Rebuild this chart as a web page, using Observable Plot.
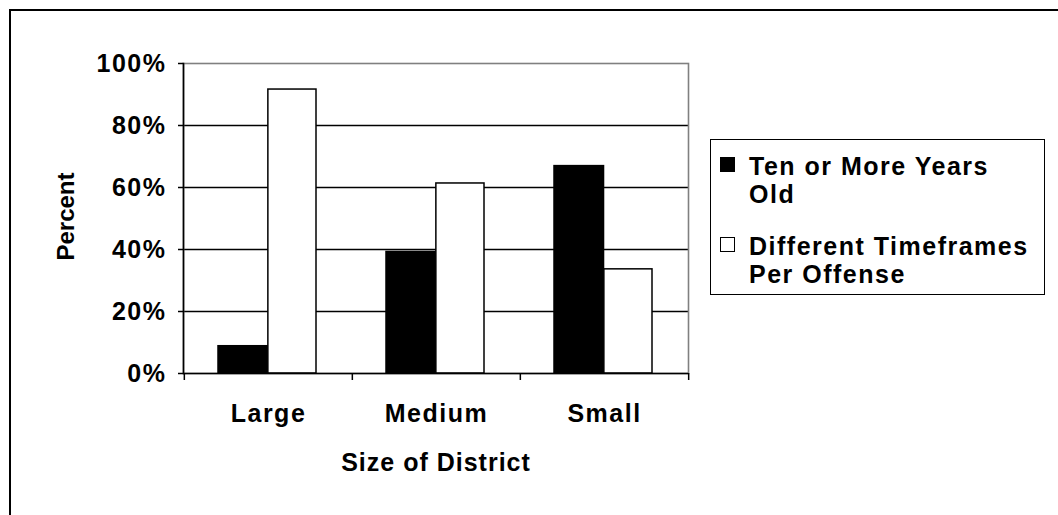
<!DOCTYPE html>
<html>
<head>
<meta charset="utf-8">
<script src="https://cdn.jsdelivr.net/npm/d3@7"></script>
<script src="https://cdn.jsdelivr.net/npm/@observablehq/plot@0.6"></script>
<style>
  html, body { margin: 0; padding: 0; background: #fff; }
  #wrap { position: relative; width: 1058px; height: 515px; overflow: hidden; font-family: "Liberation Sans", Arial, sans-serif; font-weight: bold; }
  #border { position: absolute; left: 9px; top: 9px; width: 2000px; height: 2000px; border-left: 2px solid #000; border-top: 2px solid #000; }
  #chart { position: absolute; left: 0; top: 0; }
  #chart svg g[aria-label$="tick label"] text { letter-spacing: 1.5px; }
  #legend { position: absolute; left: 710px; top: 139px; width: 333px; height: 154px; border: 1.5px solid #000; background: #fff; }
  .entry { position: absolute; left: 38px; font-size: 25px; line-height: 28px; letter-spacing: 1.5px; color: #000; white-space: nowrap; }
  .sw { position: absolute; left: -29px; top: 5px; width: 13px; height: 13px; border: 1.5px solid #000; }
</style>
</head>
<body>
<div id="wrap">
  <div id="border"></div>
  <div id="chart"></div>
  <div id="legend"></div>
</div>
<script>
const categories = ["Large", "Medium", "Small"];
const seriesNames = ["Ten or More Years Old", "Different Timeframes Per Offense"];
const legendLines = [["Ten or More Years", "Old"], ["Different Timeframes", "Per Offense"]];
const seriesColors = ["#000000", "#ffffff"];
const tenOrMoreYearsOld = [8.8, 39.2, 66.9];
const differentTimeframes = [91.6, 61.3, 33.6];
const yTicks = [0, 20, 40, 60, 80, 100];
const gridValues = [20, 40, 60, 80];
const xTitle = "Size of District";
const yTitle = "Percent";

const rows = [];
categories.forEach((c, i) => {
  rows.push({category: c, series: seriesNames[0], value: tenOrMoreYearsOld[i]});
  rows.push({category: c, series: seriesNames[1], value: differentTimeframes[i]});
});

const W = 1058, H = 515, ML = 183, MR = 370, MT = 63, MB = 142;
const step = (W - ML - MR) / categories.length;
const leftInset = 34, midInset = step / 2 + 0.3, rightInset = 36;

const chart = Plot.plot({
  width: W, height: H,
  marginLeft: ML, marginRight: MR, marginTop: MT, marginBottom: MB,
  style: {fontFamily: "'Liberation Sans', Arial, sans-serif", fontWeight: "bold", fontSize: "25px", color: "#000", background: "transparent", overflow: "visible"},
  x: {domain: categories, padding: 0, axis: null},
  y: {domain: [0, 100], axis: null},
  marks: [
    Plot.ruleY(gridValues, {stroke: "#000", strokeWidth: 1.3}),
    Plot.frame({stroke: "#808080", strokeWidth: 1.6}),
    Plot.barY(rows.filter(d => d.series === seriesNames[0]), {
      x: "category", y: "value", fill: seriesColors[0], stroke: "#000", strokeWidth: 1.5,
      insetLeft: leftInset, insetRight: midInset
    }),
    Plot.barY(rows.filter(d => d.series === seriesNames[1]), {
      x: "category", y: "value", fill: seriesColors[1], stroke: "#000", strokeWidth: 1.5,
      insetLeft: step - midInset, insetRight: rightInset
    }),
    Plot.frame({anchor: "left", stroke: "#000", strokeWidth: 1.6}),
    Plot.ruleY([0], {stroke: "#000", strokeWidth: 1.6}),
    Plot.axisY(yTicks, {tickSize: 5, tickPadding: 12, tickFormat: d => d + "%", label: null, stroke: "#000", strokeWidth: 1.5, fontSize: 25}),
    Plot.axisX(categories, {tickSize: 7, tickFormat: () => "", label: null, dx: -step / 2, stroke: "#000", strokeWidth: 1.5}),
    Plot.axisX([categories[categories.length - 1]], {tickSize: 7, tickFormat: () => "", label: null, dx: step / 2, stroke: "#000", strokeWidth: 1.5}),
    Plot.axisX(categories, {tickSize: 0, tickPadding: 31, label: null, fontSize: 25}),
    Plot.text([xTitle], {frameAnchor: "bottom", dy: 80, lineAnchor: "top", textAnchor: "middle", fontSize: 25, fontWeight: "bold"}),
    Plot.text([yTitle], {frameAnchor: "left", dx: -117.5, dy: -2, rotate: -90, textAnchor: "middle", lineAnchor: "middle", fontSize: 24, fontWeight: "bold"})
  ]
});
document.getElementById("chart").appendChild(chart);
chart.querySelectorAll('g[aria-label="text"] text').forEach(t => { if (t.textContent === xTitle) t.style.letterSpacing = "1px"; });

const legend = document.getElementById("legend");
const entryTops = [12, 92];
legendLines.forEach((lines, i) => {
  const e = document.createElement("div");
  e.className = "entry";
  e.style.top = entryTops[i] + "px";
  const sw = document.createElement("div");
  sw.className = "sw";
  sw.style.background = seriesColors[i];
  e.appendChild(sw);
  lines.forEach((l, j) => {
    if (j) e.appendChild(document.createElement("br"));
    e.appendChild(document.createTextNode(l));
  });
  legend.appendChild(e);
});
</script>
</body>
</html>
